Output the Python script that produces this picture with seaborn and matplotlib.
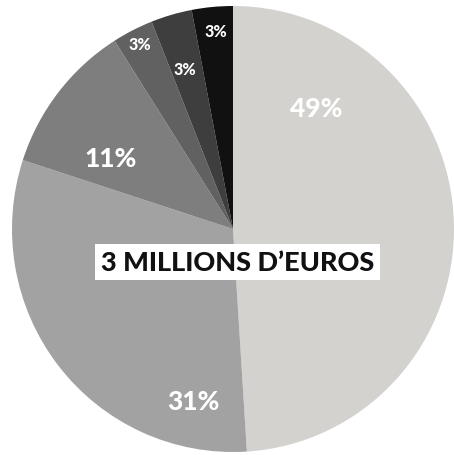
import numpy as np
import matplotlib
matplotlib.use("Agg")
import matplotlib.pyplot as plt
import seaborn as sns

# slice values, clockwise from 12 o'clock
shares = [49, 31, 11, 3, 3, 3]
labels = ["49%", "31%", "11%", "3%", "3%", "3%"]
colors = ["#d3d2cf", "#a2a2a2", "#7e7e7e", "#616161", "#3e3e3e", "#111111"]
center_text = "3 MILLIONS D\u2019EUROS"

# label placement (angle in degrees, radius) and font sizes
label_place = [(55, 0.66), (257, 0.79), (150, 0.64), (117, 0.93), (107, 0.75), (95, 0.89)]
label_sizes = [19, 19, 19, 11.5, 11.5, 11.5]


def main():
    sns.set_theme(style="white")
    plt.rcParams["font.family"] = ["Lato", "DejaVu Sans"]

    fig = plt.figure(figsize=(4.54, 4.56), dpi=100)
    ax = fig.add_axes([12 / 454, 3 / 456, 442 / 454, 446 / 456])
    ax.pie(shares, colors=colors, startangle=90, counterclock=False,
           wedgeprops=dict(linewidth=0))
    ax.set_aspect("auto")
    ax.set_xlim(-1, 1)
    ax.set_ylim(-1, 1)
    ax.axis("off")

    for lab, (ang, r), fs in zip(labels, label_place, label_sizes):
        a = np.deg2rad(ang)
        ax.text(r * np.cos(a), r * np.sin(a), lab, color="white",
                fontsize=fs, fontweight="black", ha="center", va="center")

    ax.text(0.02, -0.15, center_text, color="#111111", fontsize=19.5,
            fontweight="black", ha="center", va="center",
            bbox=dict(facecolor="white", edgecolor="none", boxstyle="square,pad=0.22"))

    fig.savefig("out.png", dpi=100)
    plt.close(fig)


if __name__ == "__main__":
    main()
